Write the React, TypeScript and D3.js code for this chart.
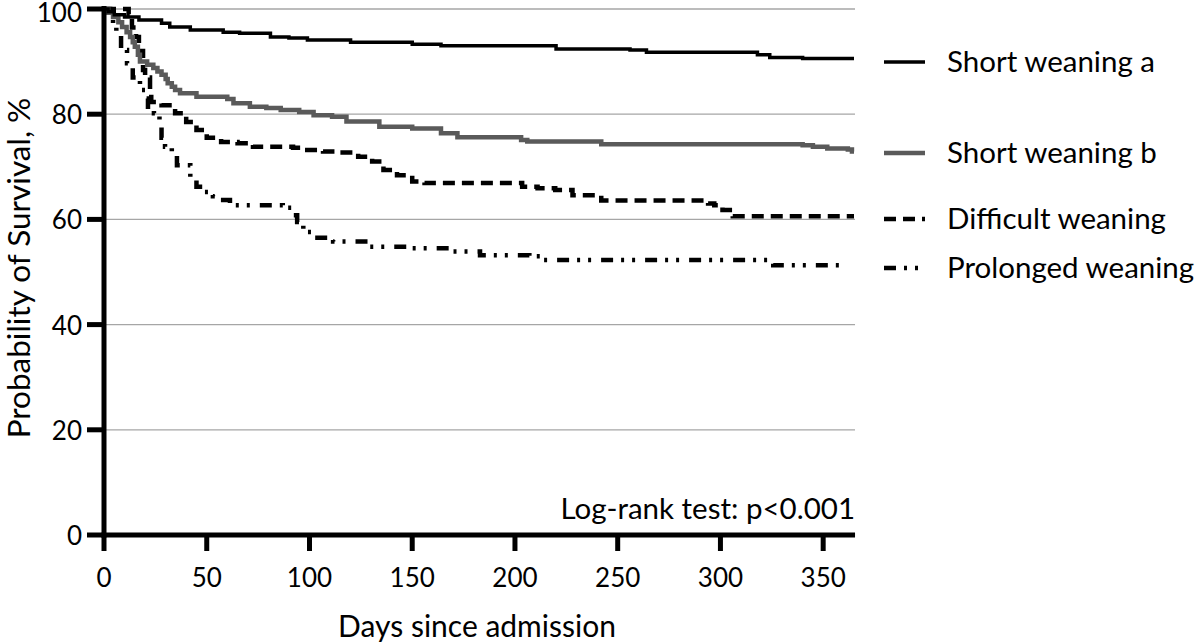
import React from "react";
import * as d3 from "d3";

// ---------- data ----------
const X_TICKS = [0, 50, 100, 150, 200, 250, 300, 350];
const Y_TICKS = [0, 20, 40, 60, 80, 100];

const shortA_days = [0, 2, 5, 10, 17, 28, 32, 42, 58, 66, 81, 90, 99, 120, 150, 164, 220, 256, 264, 318, 324, 340, 365];
const shortA_surv = [100, 99.5, 98.9, 98.5, 97.9, 97.3, 96.6, 96.0, 95.6, 95.4, 94.7, 94.5, 94.1, 93.7, 93.3, 93.0, 92.4, 92.2, 91.8, 91.3, 90.8, 90.6, 90.6];

const shortB_days = [0, 2, 4.4, 7, 8.8, 11, 12.7, 14, 15, 16.5, 17.5, 21, 24, 26, 28, 30, 31, 33, 34.6, 37, 45, 60, 63, 71, 79, 86, 95, 102, 111, 118, 134, 150, 164, 172, 203, 206, 242, 340, 345, 352, 362, 364, 365];
const shortB_surv = [100, 99.3, 98.5, 97.5, 96.6, 95.6, 94.7, 93.7, 92.8, 91.3, 90.0, 89.4, 88.8, 88.1, 87.5, 86.7, 85.9, 85.2, 84.6, 84.0, 83.3, 82.9, 82.1, 81.4, 81.2, 80.8, 80.4, 79.8, 79.5, 78.6, 77.6, 77.3, 76.4, 75.6, 75.1, 74.8, 74.3, 74.1, 73.8, 73.5, 73.3, 72.9, 72.9];

const difficult_days = [0, 12, 13.6, 15.6, 17, 19, 20, 22.4, 23, 28, 34.6, 40, 45, 50, 57, 65, 72.5, 92, 96, 106.6, 115, 123.7, 130.5, 136, 142.6, 150, 156, 203.5, 211, 219.6, 228, 242, 294, 297, 301, 306, 365];
const difficult_surv = [100, 99.0, 96.5, 94.7, 92.0, 88.4, 87.0, 84.0, 82.3, 81.7, 80.2, 78.5, 77.0, 75.5, 74.7, 74.5, 73.8, 73.6, 73.2, 72.9, 72.7, 71.9, 71.0, 69.4, 68.4, 67.2, 66.9, 66.2, 65.9, 65.6, 64.6, 63.6, 63.0, 62.7, 61.8, 60.6, 60.6];

const prolonged_days = [0, 3, 4.4, 6, 8.3, 11.2, 14, 17.5, 20, 21.4, 24.3, 27, 28, 29.7, 33, 35.5, 42, 45, 48, 53, 58, 61.3, 87, 92, 94, 97, 102, 111.5, 129.5, 150, 168.5, 183, 207, 213.7, 325.7, 361];
const prolonged_surv = [100, 98.5, 96.6, 95.0, 92.2, 89.7, 87.0, 84.6, 83.0, 80.8, 80.2, 78.0, 75.5, 73.8, 72.6, 70.3, 68.0, 66.2, 65.2, 64.4, 63.7, 62.7, 62.2, 60.8, 59.5, 57.6, 56.5, 55.8, 54.8, 54.5, 53.9, 53.2, 53.0, 52.3, 51.3, 51.3];

const SERIES_NAMES = ["Short weaning a", "Short weaning b", "Difficult weaning", "Prolonged weaning"];

const X_TITLE = "Days since admission";
const Y_TITLE = "Probability of Survival, %";
const NOTE = "Log-rank test: p<0.001";

// ---------- styles ----------
const FONT = "Lato, 'Open Sans', sans-serif";
const styles = [
  { stroke: "#000000", width: 3.5, dash: "none" },
  { stroke: "#5a5a5a", width: 4.5, dash: "none" },
  { stroke: "#000000", width: 4.5, dash: "12,7" },
  { stroke: "#000000", width: 4.5, dash: "12,8,3,8,3,10" },
];
const legendLineY = [62, 153, 219, 268];

export default function App() {
  const x = d3.scaleLinear().domain([0, 365]).range([104, 854]);
  const y = d3.scaleLinear().domain([0, 100]).range([535, 9]);

  const seriesData = [
    [shortA_days, shortA_surv],
    [shortB_days, shortB_surv],
    [difficult_days, difficult_surv],
    [prolonged_days, prolonged_surv],
  ].map(([ds, ss]) => ds.map((d, i) => [d, ss[i]] as [number, number]));

  const line = d3
    .line<[number, number]>()
    .x((d) => x(d[0]))
    .y((d) => y(d[1]))
    .curve(d3.curveStepAfter);

  const xEnd = x(365.5);

  return (
    <svg
      width={1200}
      height={644}
      style={{ position: "absolute", left: 0, top: 0, background: "#fff" }}
      fontFamily={FONT}
    >
      <rect x={0} y={0} width={1200} height={644} fill="#fff" />
      {/* grid */}
      {Y_TICKS.filter((t) => t > 0).map((t) => (
        <line key={"g" + t} x1={x(0)} x2={xEnd} y1={y(t)} y2={y(t)} stroke="#a6a6a6" strokeWidth={1.3} />
      ))}

      {/* curves (drawn bottom-first) */}
      {[3, 2, 1, 0].map((i) => (
        <path
          key={"s" + i}
          d={line(seriesData[i]) || ""}
          fill="none"
          stroke={styles[i].stroke}
          strokeWidth={styles[i].width}
          strokeDasharray={styles[i].dash}
          strokeLinejoin="miter"
        />
      ))}

      {/* axes */}
      <line x1={x(0)} x2={x(0)} y1={y(100) - 3} y2={y(0) + 2.5} stroke="#000" strokeWidth={5} />
      <line x1={x(0) - 2.5} x2={xEnd} y1={y(0)} y2={y(0)} stroke="#000" strokeWidth={5} />
      {Y_TICKS.map((t) => (
        <g key={"yt" + t}>
          <line x1={x(0) - 17} x2={x(0)} y1={y(t)} y2={y(t)} stroke="#000" strokeWidth={5} />
          <text x={82} y={Math.max(y(t), 12)} textAnchor="end" dominantBaseline="central" fontSize={26} fill="#000">
            {t}
          </text>
        </g>
      ))}
      {X_TICKS.map((t) => (
        <g key={"xt" + t}>
          <line x1={x(t)} x2={x(t)} y1={y(0)} y2={y(0) + 16} stroke="#000" strokeWidth={5} />
          <text x={x(t)} y={577} textAnchor="middle" dominantBaseline="central" fontSize={26} fill="#000">
            {t}
          </text>
        </g>
      ))}

      {/* titles */}
      <text x={477} y={637} textAnchor="middle" fontSize={30} fill="#000">
        {X_TITLE}
      </text>
      <text
        transform={`translate(18, 268) rotate(-90)`}
        textAnchor="middle"
        dominantBaseline="central"
        fontSize={31.5}
        fill="#000"
      >
        {Y_TITLE}
      </text>
      <text x={xEnd} y={519} textAnchor="end" fontSize={29.5} fill="#000">
        {NOTE}
      </text>

      {/* legend */}
      {SERIES_NAMES.map((name, i) => (
        <g key={"l" + i}>
          <line
            x1={884}
            x2={925}
            y1={legendLineY[i]}
            y2={legendLineY[i]}
            stroke={styles[i].stroke}
            strokeWidth={styles[i].width}
            strokeDasharray={styles[i].dash}
          />
          <text x={947} y={legendLineY[i] + 10} fontSize={29.5} fill="#000">
            {name}
          </text>
        </g>
      ))}
    </svg>
  );
}
